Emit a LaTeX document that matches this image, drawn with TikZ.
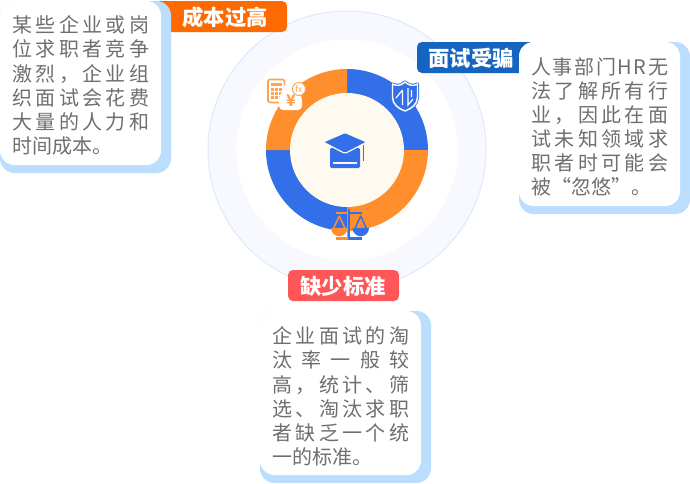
\documentclass[tikz,border=0pt]{standalone}
\usepackage{fontspec}
\usetikzlibrary{calc}
\setmainfont{Noto Sans CJK SC}
\definecolor{ringblue}{HTML}{336FE8}
\definecolor{ringorange}{HTML}{FF8F2C}
\definecolor{iconorange}{HTML}{FFA24F}
\definecolor{lightblue}{HTML}{BBDEFF}
\definecolor{bodygray}{HTML}{6F6F6F}
\definecolor{cream}{HTML}{FFFAF0}
\definecolor{halo}{HTML}{F7F9FF}
\definecolor{haloline}{HTML}{DDE8FF}
\definecolor{tagorange}{HTML}{FF6A00}
\definecolor{tagblue}{HTML}{1565C0}
\definecolor{tagred}{HTML}{FF5657}
\newdimen\pxu \pxu=0.75pt
\makeatletter
\newcommand{\spreadline}[1]{\makebox[137\pxu][s]{\def\my@sep{\def\my@sep{\hfil}}\@tfor\my@c:=#1\do{\my@sep\my@c}}}
\makeatother
\tikzset{
  x=0.75pt,y=-0.75pt,
  bodyline/.style={anchor=west,inner sep=0pt,text=bodygray,font=\fontsize{15pt}{15pt}\selectfont},
  tagtext/.style={text=white,inner sep=0pt,font=\fontsize{16pt}{16pt}\selectfont\bfseries},
}
\begin{document}
\begin{tikzpicture}
\useasboundingbox (0,0) rectangle (690,483);
\fill[white] (0,0) rectangle (690,483);
% halo
\coordinate (c) at (347,150);
\fill[halo,draw=haloline,line width=0.75pt] (c) circle [radius=104.25pt];
\fill[white] (c) circle [radius=83pt];
% donut
\fill[ringblue] (c) -- ++(0,-81) arc[start angle=90,end angle=0,radius=60.75pt] -- cycle;
\fill[ringorange] (c) -- ++(81,0) arc[start angle=0,end angle=-90,radius=60.75pt] -- cycle;
\fill[ringblue] (c) -- ++(0,81) arc[start angle=-90,end angle=-180,radius=60.75pt] -- cycle;
\fill[ringorange] (c) -- ++(-81,0) arc[start angle=180,end angle=90,radius=60.75pt] -- cycle;
\fill[cream] (c) circle [radius=42.75pt];
% cap
\fill[ringblue,rounded corners=1pt] (330,148) -- (330,168) -- (360,168) -- (360,148) -- cycle;
\fill[cream] (333,161.5) rectangle (357,164);
\fill[ringblue,draw=cream,line width=0.9pt,rounded corners=1.2pt] (323,142) -- (345,132.5) -- (367,142) -- (345,153.5) -- cycle;
\fill[ringblue] (362.5,145) rectangle (364,161);
% shield
\draw[ringblue,line width=2.4pt,line join=round]
  (392.5,84) .. controls (397,86.5) and (401,85.5) .. (405,82) .. controls (409,85.5) and (413,86.5) .. (417.5,84)
  -- (417.5,97) .. controls (417.5,104) and (412,108.5) .. (405,111) .. controls (398,108.5) and (392.5,104) .. (392.5,97) -- cycle;
\draw[white,fill=ringblue,line width=1.1pt,line join=round]
  (392.5,84) .. controls (397,86.5) and (401,85.5) .. (405,82) .. controls (409,85.5) and (413,86.5) .. (417.5,84)
  -- (417.5,97) .. controls (417.5,104) and (412,108.5) .. (405,111) .. controls (398,108.5) and (392.5,104) .. (392.5,97) -- cycle;
\draw[white,line width=0.9pt] (396,98) -- (402.5,90) (402.5,90) -- (402.5,105) (408,88) -- (408,105) -- (413,99) (411.5,90) -- (411.5,97);
% calculator
\fill[white] (266,77) rectangle (287,105);
\draw[iconorange,line width=1.2pt,rounded corners=1.5pt,fill=white] (268,79.5) rectangle (284.5,102.5);
\foreach \yy in {88,92,96}{\foreach \xx in {271,275,279}{\fill[iconorange] (\xx,\yy) rectangle +(3,3);}}
\fill[iconorange] (271,82.5) rectangle (282,85.5);
% money bag
\fill[white,rounded corners=3pt] (279,110) -- (279,96) -- (285,88) -- (283,83) -- (296,83) -- (299,88) -- (302,98) -- (302,110) -- cycle;
\node (yen) at (291,101) [inner sep=0pt,text=iconorange,font=\fontsize{12pt}{12pt}\selectfont\bfseries] {¥};
\draw[iconorange,fill=white,line width=0.7pt] (299,89) circle [radius=4.9pt];
\node (fx) at (299,88.5) [inner sep=0pt,text=iconorange,font=\fontsize{6.5pt}{6.5pt}\selectfont\itshape] {fx};
% scale
\fill[ringorange] (331,228) arc[start angle=180,end angle=360,radius=6.2pt] -- cycle;
\fill[ringblue] (352.5,228) arc[start angle=180,end angle=360,radius=6.2pt] -- cycle;
\draw[ringorange,line width=1.1pt,line join=round] (339.3,216) -- (333.5,228.5) -- (345,228.5) -- cycle;
\draw[ringblue,line width=1.1pt,line join=round] (360.7,216) -- (355,228.5) -- (366.5,228.5) -- cycle;
\fill[ringorange] (336,212) rectangle (348.2,214);
\fill[ringblue] (348.2,212) rectangle (362,214);
\fill[ringorange] (346.6,209) rectangle (348.2,238);
\fill[ringblue] (348.2,209) rectangle (349.8,238);
\fill[ringorange] (336,237) rectangle (348.2,239.5);
\fill[ringblue] (348.2,237) rectangle (362,239.5);
% left card
\fill[tagorange,rounded corners=3.75pt] (150,1) rectangle (287,32);
\node[tagtext] (tagA) at (225,17) {成本过高};
\fill[lightblue,rounded corners=11pt] (0,1) rectangle (171,173);
\fill[white,rounded corners=11pt] (0,1) rectangle (161,165);
\node[bodyline] (a1) at (12,25) {\spreadline{某些企业或岗}};
\node[bodyline] (a2) at (12,49) {\spreadline{位求职者竞争}};
\node[bodyline] (a3) at (12,74) {\spreadline{激烈，企业组}};
\node[bodyline] (a4) at (12,98) {\spreadline{织面试会花费}};
\node[bodyline] (a5) at (12,122) {\spreadline{大量的人力和}};
\node[bodyline] (a6) at (12,146) {时间成本。};
% right card
\fill[tagblue,rounded corners=3.75pt] (417,42) rectangle (540,73);
\node[tagtext] (tagB) at (471,58) {面试受骗};
\fill[lightblue,rounded corners=11pt] (519,42) rectangle (690,214);
\fill[white,rounded corners=11pt] (519,42) rectangle (680,206);
\node[bodyline] (b1) at (531,67) {\spreadline{人事部门HR无}};
\node[bodyline] (b2) at (531,91) {\spreadline{法了解所有行}};
\node[bodyline] (b3) at (531,115) {\spreadline{业，因此在面}};
\node[bodyline] (b4) at (531,139) {\spreadline{试未知领域求}};
\node[bodyline] (b5) at (531,163) {\spreadline{职者时可能会}};
\node[bodyline] (b6) at (531,187) {被“忽悠”。};
% bottom card
\fill[tagred,rounded corners=3.75pt] (288,270) rectangle (399,301);
\node[tagtext] (tagC) at (343,286) {缺少标准};
\fill[lightblue,rounded corners=11pt] (260,311) rectangle (431,483);
\fill[white,rounded corners=11pt] (260,311) rectangle (421,475);
\node[bodyline] (d1) at (272,336) {\spreadline{企业面试的淘}};
\node[bodyline] (d2) at (272,360) {\spreadline{汰率一般较}};
\node[bodyline] (d3) at (272,385) {\spreadline{高，统计、筛}};
\node[bodyline] (d4) at (272,409) {\spreadline{选、淘汰求职}};
\node[bodyline] (d5) at (272,433) {\spreadline{者缺乏一个统}};
\node[bodyline] (d6) at (272,457) {一的标准。};
\end{tikzpicture}
\end{document}
